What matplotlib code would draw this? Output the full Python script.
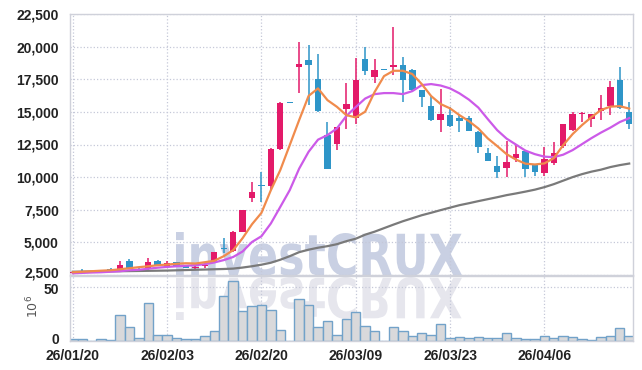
import matplotlib
matplotlib.use('Agg')
import matplotlib.pyplot as plt
import numpy as np
from matplotlib.textpath import TextPath
from matplotlib.patches import PathPatch
from matplotlib.font_manager import FontProperties
from matplotlib.transforms import Affine2D, ScaledTranslation
from matplotlib.ticker import FuncFormatter

# daily candles, 60 trading days
opens = [2680, 2740, 2740, 2760, 2990, 2860, 3580, 3120, 3000, 3560,
         3200, 3460, 3250, 3000, 3200, 3500, 4500, 4350, 5800, 8410,
         9380, 9330, 12120, 15700, 18460, 18970, 17510, 13220, 12530, 15240,
         14550, 19050, 17640, 18210, 18410, 18590, 18200, 16670, 15440, 14370,
         14750, 14500, 14500, 13470, 11820, 10840, 10710, 11480, 11990, 10910,
         10280, 11100, 12380, 13600, 14820, 14470, 15080, 15470, 17440, 15010]
closes = [2740, 2700, 2780, 2890, 2900, 3250, 3000, 3000, 3460, 3200,
          3400, 3170, 3040, 3120, 3300, 4270, 4460, 5800, 7470, 8850,
          9340, 12150, 15700, 15690, 18670, 18590, 15060, 10610, 13830, 15600,
          17440, 18150, 18200, 18190, 18590, 17440, 16670, 16160, 14370, 14830,
          13930, 14320, 13550, 12280, 11250, 10400, 11130, 11740, 10590, 10400,
          11380, 11820, 14040, 14830, 14840, 14830, 15270, 16880, 15270, 14040]
highs = [2780, 2950, 2800, 2920, 3050, 3560, 3760, 3150, 3840, 3630,
         3555, 3480, 3270, 3300, 3460, 4300, 5300, 5850, 7500, 9640,
         10400, 12200, 15720, 15710, 20330, 20120, 19410, 14190, 13850, 17180,
         19150, 19950, 19030, 18220, 21480, 19180, 18250, 16700, 16210, 16720,
         15390, 14750, 14680, 13500, 12200, 11630, 12780, 12530, 12050, 10950,
         12280, 12710, 14100, 15010, 15010, 14860, 16290, 17380, 18410, 15770]
lows = [2650, 2680, 2720, 2740, 2880, 2830, 2990, 2980, 2890, 3180,
        3180, 3150, 3020, 2920, 3040, 3480, 4190, 4250, 5780, 8100,
        8100, 9000, 12100, 15690, 16420, 15520, 15000, 10600, 12070, 13680,
        14060, 17820, 17180, 18180, 17820, 15730, 16600, 15390, 14320, 13470,
        13860, 13470, 13500, 11820, 11200, 9900, 9980, 11170, 10020, 10070,
        10070, 10920, 12200, 13550, 14240, 13860, 14370, 14750, 15200, 13660]
volumes = [1.5, 1.5, 0.3, 1.5, 0.6, 23.8, 12.7, 2.5, 34.9, 5.3,
           5.3, 2.5, 1.5, 1.5, 4.3, 9.0, 41.4, 55.3, 27.5, 32.1,
           33.1, 28.4, 9.9, 0.0, 38.6, 33.1, 12.7, 18.2, 5.3, 20.1,
           26.6, 13.6, 9.0, 0.0, 12.7, 9.0, 4.3, 7.1, 5.3, 15.5,
           2.5, 3.4, 2.5, 3.4, 2.5, 2.5, 7.1, 2.5, 1.5, 1.5,
           4.3, 2.5, 4.3, 3.4, 1.5, 0.6, 3.4, 4.3, 11.8, 4.3]

# moving averages
ma_short = [2710, 2750, 2790, 2830, 2865, 2940, 3020, 3100, 3170, 3250,
            3300, 3360, 3400, 3380, 3480, 3590, 3940, 4400, 5320, 6390,
            7260, 9000, 10540, 12450, 14370, 16220, 16800, 15900, 15390, 14750,
            14580, 15010, 16520, 17740, 18150, 18150, 17900, 17130, 16210, 15600,
            15270, 14750, 14290, 13730, 12970, 12380, 11760, 11340, 11030, 10970,
            11050, 11450, 12450, 13300, 13990, 14600, 15140, 15400, 15440, 15250]
ma_mid = [2630, 2660, 2690, 2710, 2750, 2790, 2865, 2900, 2980, 3060,
          3120, 3170, 3210, 3250, 3330, 3460, 3640, 3880, 4300, 5030,
          5470, 6450, 7720, 9000, 10650, 11940, 12870, 13220, 13730, 14680,
          15370, 16020, 16360, 16440, 16440, 16360, 16590, 17050, 17130, 17020,
          16800, 16420, 15940, 15330, 14450, 13600, 12950, 12490, 12030, 11760,
          11570, 11530, 11720, 12070, 12530, 12990, 13410, 13790, 14220, 14520]
ma_long = [2750, 2760, 2770, 2775, 2780, 2790, 2800, 2810, 2820, 2830,
           2840, 2860, 2880, 2900, 2920, 2940, 2960, 2990, 3070, 3170,
           3290, 3440, 3670, 3940, 4250, 4440, 4590, 4710, 4860, 5090,
           5280, 5590, 5820, 6090, 6360, 6620, 6850, 7080, 7270, 7470,
           7660, 7850, 8000, 8160, 8310, 8460, 8620, 8750, 8890, 9040,
           9230, 9460, 9730, 10000, 10230, 10420, 10570, 10770, 10920, 11040]

tick_idx = [0, 10, 20, 30, 40, 50]
tick_labels = ['26/01/20', '26/02/03', '26/02/20', '26/03/09', '26/03/23', '26/04/06']

UP = '#e31a69'
DOWN = '#2e95c8'
GRID = '#c5c8d8'
SPINE = '#cfd1da'
LAB_FAMILY = ['Liberation Sans Narrow', 'Liberation Sans', 'DejaVu Sans']

fig = plt.figure(figsize=(6.42, 3.70), dpi=100)
W, H = 642, 370


def watermark(text, x0, top, x1, bottom, color, flip=False):
    fp = FontProperties(family='DejaVu Sans', weight='bold')
    tp = TextPath((0, 0), text, size=100, prop=fp)
    ext = tp.get_extents()
    sx = (x1 - x0) / ext.width
    sy = (bottom - top) / ext.height
    if flip:
        tr = Affine2D().translate(-ext.x0, -ext.y0).scale(sx, -sy).translate(x0, H - top)
    else:
        tr = Affine2D().translate(-ext.x0, -ext.y0).scale(sx, sy).translate(x0, H - bottom)
    tr = tr + Affine2D().scale(1 / 100.0) + fig.dpi_scale_trans
    p = PathPatch(tp, transform=tr, facecolor=color, edgecolor='none', zorder=-1)
    fig.add_artist(p)


watermark('investCRUX', 176, 232, 462, 276, '#c9d0e3')
watermark('investCRUX', 176, 277, 462, 320, '#e6e6ed', flip=True)

ax = fig.add_axes([70 / W, (H - 275) / H, 562.5 / W, 261 / H])
axv = fig.add_axes([70 / W, (H - 341) / H, 562.5 / W, 65 / H])

x = np.arange(len(opens))
o = np.array(opens)
c = np.array(closes)
colors = [UP if cc >= oo else DOWN for oo, cc in zip(opens, closes)]
body_lo = np.minimum(o, c)
body_h = np.maximum(np.abs(c - o), 80)

ax.vlines(x, lows, highs, colors=colors, linewidth=1.1, zorder=2)
ax.bar(x, body_h, bottom=body_lo, width=0.68, color=colors, zorder=3)
ax.plot(x, ma_long, color='#7a7a7a', linewidth=1.6, zorder=4)
ax.plot(x, ma_mid, color='#cc5ae8', linewidth=1.6, zorder=4)
ax.plot(x, ma_short, color='#f08b4c', linewidth=1.6, zorder=4)

axv.bar(x, volumes, width=1.0, color='#d9d9db', edgecolor='#72a2c9', linewidth=1.0, zorder=2)

for a in (ax, axv):
    a.set_facecolor('none')
    a.set_xlim(-0.3, 59.35)
    a.set_xticks(tick_idx)
    a.grid(True, color=GRID, linestyle=':', linewidth=0.9)
    a.set_axisbelow(True)
    a.tick_params(length=0)
    for s in a.spines.values():
        s.set_color(SPINE)
        s.set_linewidth(1.0)

ax.set_ylim(2500, 22500)
ax.set_yticks(np.arange(2500, 22501, 2500))
ax.yaxis.set_major_formatter(FuncFormatter(lambda v, p: f'{int(v):,}'))
ax.set_xticklabels([])
ax.tick_params(axis='y', pad=8)

axv.set_ylim(0, 60)
axv.set_yticks([0, 50])
axv.set_xticklabels(tick_labels)
axv.tick_params(axis='y', pad=8)
axv.tick_params(axis='x', pad=6)

for a in (ax, axv):
    for t in a.get_xticklabels() + a.get_yticklabels():
        t.set_fontfamily(LAB_FAMILY)
        t.set_fontweight('bold')
        t.set_fontsize(10)
        t.set_color('#222222')


def nudge(label, dy_px):
    label.set_transform(label.get_transform() +
                        ScaledTranslation(0, dy_px / 100.0, fig.dpi_scale_trans))


# keep the crowded labels at the panel junction apart
nudge(ax.get_yticklabels()[0], 2.5)
nudge(axv.get_yticklabels()[1], -1.5)
nudge(axv.get_yticklabels()[0], 3)

fig.text(33 / W, 1 - 306 / H, '10$^6$', rotation=90, ha='center', va='center',
         fontsize=9, color='#555555')

fig.savefig('out.png', dpi=100)
